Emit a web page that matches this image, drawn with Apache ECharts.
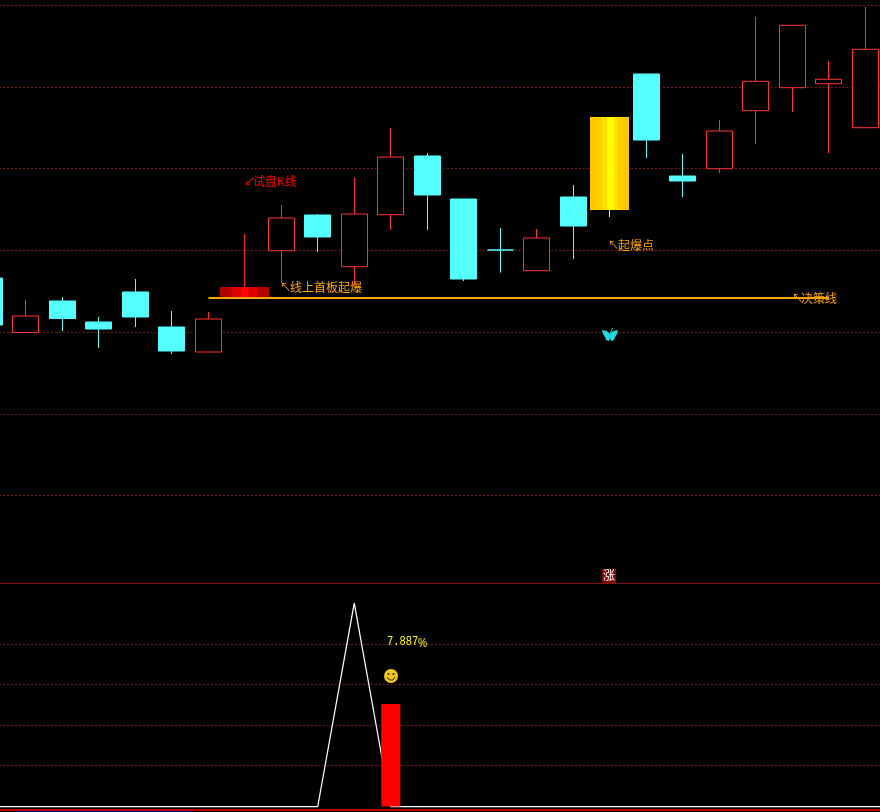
<!DOCTYPE html>
<html><head><meta charset="utf-8">
<style>html,body{margin:0;padding:0;background:#000}#c{width:880px;height:812px}</style>
<script src="https://cdn.jsdelivr.net/npm/echarts@6/dist/echarts.min.js"></script>
</head><body><div id="c"></div>
<script>
// --- data ---
const sessions = ['d0','d1','d2','d3','d4','d5','d6','d7','d8','d9','d10','d11','d12','d13','d14','d15','d16','d17','d18','d19','d20','d21','d22','d23','d24','d25'];
const opens  = [305,250.5,282,261,291,256,231,286,332.3,368,316.3,368.3,427,384,333,312.3,386,373,509,407,414.3,472.3,495.3,499.3,455.3];
const closes = [258,267,264.5,254,266,232,264,296,365,346,369,426,388,304,333,345,357,466,443,402,452,501.7,557.7,503.7,533.7];
const lows   = [258,250.5,252,235,256,229,231,286,300,331,297,353,353,302,310.3,312.3,324,366.3,425,386,410,439,471,430,455.3];
const highs  = [305,283,286,266,304,272,271,349,378,369,405.5,455,430,384,355,354,398,466,509,429,463,566,557.7,522,576];
const priceLevels = [87.5,168.5,250.5,332.5,414.5,495.5,577.5];
const decisionLine = [null,null,null,null,null,null,285,285,285,285,285,285,285,285,285,285,285,285,285,285,285,285,285,285,null,null];
const indicatorLine = [0,0,0,0,0,0,0,0,0,0,15.65,0,0,0,0,0,0,0,0,0,0,0,0,0,0,0];
const indicatorBar = [null,null,null,null,null,null,null,null,null,null,null,7.887,null,null,null,null,null,null,null,null,null,null,null,null,null,null];
const indicatorLevels = [3.154,6.23,9.385,12.46];
const baseLevel = -0.27;
const launchDays = [{index:7,kind:'red'},{index:17,kind:'gold'}];

const RED='#ff3232', CYAN='#54ffff', ORANGE='#ffa500';
const dotted = {color:'#d00000',width:1,type:[1.5,2.5],dashOffset:0.15};
const dottedLow = {color:'#d00000',width:1,type:[1.5,2.5],dashOffset:0};
function bands(list){
  const total=list.reduce((s,b)=>s+b[1],0); let at=0; const out=[];
  list.forEach(b=>{out.push({offset:at/total,color:b[0]}); at+=b[1]; out.push({offset:at/total,color:b[0]});});
  return out;
}
const launchStyle = {
  red:{width:49,wick:'#ff2020',stops:bands([['#b40000',12],['#e00000',9],['#ff0000',7],['#e00000',9],['#b40000',12]])},
  gold:{width:39,wick:'#ffff00',stops:bands([['#ffc800',7],['#ffd000',5],['#ffe000',5],['#ffff00',7],['#ffe000',4],['#ffd000',5],['#ffc800',6]])}
};
const chart = echarts.init(document.getElementById('c'),null,{renderer:'canvas'});
const candleData = opens.map((o,i)=>{
  const v=[o,closes[i],lows[i],highs[i]];
  if(i===14) return {value:v,itemStyle:{color:CYAN,borderColor:CYAN,color0:CYAN,borderColor0:CYAN}};
  if(launchDays.some(d=>d.index===i)) return {value:v,itemStyle:{opacity:0}};
  return v;
});
function text(s,x,y,color,size,extra){
  return {type:'text',left:x,top:y,z:20,style:Object.assign({text:s,fill:color,font:(size||12)+'px "Noto Sans CJK SC","Liberation Sans",sans-serif'},extra||{})};
}
chart.setOption({
  animation:false,
  backgroundColor:'#000',
  grid:[
    {left:-28.85,width:949,top:0,height:583,outerBoundsMode:'none',containLabel:false},
    {left:-29,width:949,top:583,height:229,outerBoundsMode:'none',containLabel:false}
  ],
  xAxis:[
    {type:'category',gridIndex:0,data:sessions,show:false},
    {type:'category',gridIndex:1,data:sessions,show:false}
  ],
  yAxis:[
    {type:'value',gridIndex:0,min:0,max:583,show:false,splitLine:{show:false}},
    {type:'value',gridIndex:1,min:-0.423,max:17.19,show:false,splitLine:{show:false}}
  ],
  series:[
    {type:'candlestick',name:'K',xAxisIndex:0,yAxisIndex:0,barWidth:26.5,z:3,data:candleData,
      itemStyle:{color:'#000',color0:CYAN,borderColor:RED,borderColor0:CYAN,borderWidth:1},
      markLine:{silent:true,z:1,symbol:'none',label:{show:false},lineStyle:dotted,animation:false,
        data:priceLevels.map(v=>({yAxis:v}))}},
    {type:'custom',name:'launch',xAxisIndex:0,yAxisIndex:0,z:4,
      data:launchDays.map(d=>[d.index,opens[d.index],closes[d.index],lows[d.index],highs[d.index]]),
      encode:{x:0,y:[1,2,3,4]},
      renderItem(params,api){
        const x=api.value(0), st=launchStyle[launchDays[params.dataIndex].kind];
        const top=api.coord([x,api.value(2)]), bot=api.coord([x,api.value(1)]);
        const hi=api.coord([x,api.value(4)]), lo=api.coord([x,api.value(3)]);
        const y0=Math.round(top[1]), y1=Math.round(bot[1]), c=top[0];
        return {type:'group',children:[
          {type:'rect',shape:{x:Math.round(c-1),y:Math.round(hi[1]),width:1,height:Math.round(lo[1])-Math.round(hi[1])},style:{fill:st.wick}},
          {type:'rect',shape:{x:Math.floor(c-st.width/2),y:y0,width:st.width,height:y1-y0},
            style:{fill:{type:'linear',x:0,y:0,x2:1,y2:0,colorStops:st.stops,global:false}}}
        ]};
      }},
    {type:'line',name:'decision',xAxisIndex:0,yAxisIndex:0,z:5,data:decisionLine,showSymbol:false,symbol:'none',
      lineStyle:{color:ORANGE,width:2}},
    {type:'line',name:'indicator',xAxisIndex:1,yAxisIndex:1,z:3,data:indicatorLine,showSymbol:false,symbol:'none',
      lineStyle:{color:'#ffffff',width:1.25},
      markLine:{silent:true,z:1,symbol:'none',label:{show:false},lineStyle:dottedLow,animation:false,
        data:indicatorLevels.map(v=>({yAxis:v}))}},
    {type:'bar',name:'gain',xAxisIndex:1,yAxisIndex:1,z:4,data:indicatorBar,barWidth:19,itemStyle:{color:'#ff0000'},
      markLine:{silent:true,z:2,symbol:'none',label:{show:false},animation:false,lineStyle:{color:'#c00000',width:2,type:'solid'},
        data:[{yAxis:baseLevel}]}}
  ],
  graphic:[
    {type:'line',z:6,shape:{x1:0,y1:583.5,x2:880,y2:583.5},style:{stroke:'#801010',lineWidth:1}},
    {type:'line',z:6,shape:{x1:15,y1:811.5,x2:193,y2:811.5},style:{stroke:'#000090',lineWidth:1}},
    text('↙',244,176,'#ff0000',11),
    text('试盘K线',253,175,'#ff0000',12),
    text('↖',280,281,ORANGE,11),
    text('线上首板起爆',290,281,ORANGE,12),
    text('↖',608,239,ORANGE,11),
    text('起爆点',618,239,ORANGE,12),
    text('↖',792,292,ORANGE,11),
    text('决策线',801,292,ORANGE,12),
    {type:'text',left:387,top:635,z:20,style:{text:'7.887',fill:'#ffff00',font:'10.4px "Liberation Mono",monospace'},scaleY:1.25},
    {type:'text',left:418,top:638,z:20,style:{text:'%',fill:'#ffff00',font:'12px "Liberation Sans",sans-serif'},scaleX:0.85},
    {type:'polygon',z:20,shape:{points:[[610,334],[607,331],[602,330],[603,334],[605,337],[606,340],[609,341],[610,338],[611,341],[614,340],[615,337],[617,334],[618,330],[613,331]]},style:{fill:'#22d8dc'}},
    {type:'line',z:20,shape:{x1:610,y1:334,x2:612.5,y2:328},style:{stroke:'#22d8dc',lineWidth:1}},
    {type:'circle',z:20,shape:{cx:391,cy:676,r:7},style:{fill:'#f2c81c'}},
    {type:'circle',z:21,shape:{cx:388.5,cy:674,r:1},style:{fill:'#222'}},
    {type:'circle',z:21,shape:{cx:393.5,cy:674,r:1},style:{fill:'#222'}},
    {type:'arc',z:21,shape:{cx:391,cy:676,r:4,startAngle:0.3,endAngle:2.84},style:{stroke:'#222',fill:null,lineWidth:1}},
    {type:'rect',z:20,shape:{x:602,y:569,width:14,height:14},style:{fill:'#7a0c0c'}},
    {type:'text',left:603,top:569,z:21,style:{text:'涨',fill:'#ffffff',font:'12px "Noto Sans CJK SC",sans-serif'}}
  ]
});
</script></body></html>
